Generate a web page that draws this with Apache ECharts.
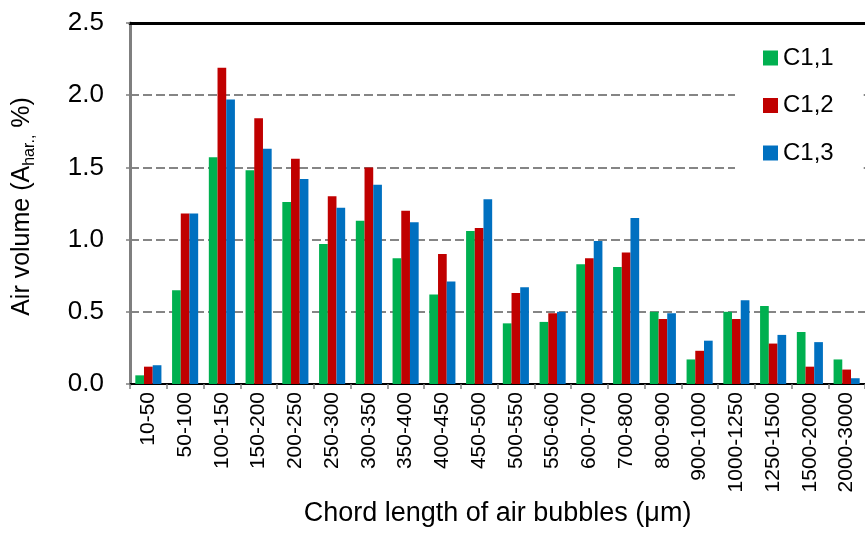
<!DOCTYPE html>
<html>
<head>
<meta charset="utf-8">
<script src="https://cdn.jsdelivr.net/npm/echarts@6/dist/echarts.min.js"></script>
<style>
  html, body { margin: 0; padding: 0; background: #fff; }
  #chart { width: 865px; height: 534px; }
</style>
</head>
<body>
<div id="chart"></div>
<script>
// Chord-length classes (µm)
const categories = ['10-50', '50-100', '100-150', '150-200', '200-250', '250-300', '300-350',
  '350-400', '400-450', '450-500', '500-550', '550-600', '600-700', '700-800', '800-900',
  '900-1000', '1000-1250', '1250-1500', '1500-2000', '2000-3000'];

const seriesNames = ['C1,1', 'C1,2', 'C1,3'];

// Air volume per class (%)
const c11 = [0.06, 0.65, 1.57, 1.48, 1.26, 0.97, 1.13, 0.87, 0.62, 1.06, 0.42, 0.43, 0.83, 0.81, 0.50, 0.17, 0.50, 0.54, 0.36, 0.17];
const c12 = [0.12, 1.18, 2.19, 1.84, 1.56, 1.30, 1.50, 1.20, 0.90, 1.08, 0.63, 0.49, 0.87, 0.91, 0.45, 0.23, 0.45, 0.28, 0.12, 0.10];
const c13 = [0.13, 1.18, 1.97, 1.63, 1.42, 1.22, 1.38, 1.12, 0.71, 1.28, 0.67, 0.50, 0.99, 1.15, 0.49, 0.30, 0.58, 0.34, 0.29, 0.04];

// Value axis range
const yMin = 0;
const yMax = 2.5;
const yStep = 0.5;

const colors = ['#00B050', '#C00000', '#0070C0'];
const FONT = '"Liberation Sans", Arial, sans-serif';

const chart = echarts.init(document.getElementById('chart'), null, { renderer: 'canvas' });

const values = [c11, c12, c13];

chart.setOption({
  animation: false,
  backgroundColor: '#ffffff',
  color: colors,
  textStyle: { fontFamily: FONT, color: '#000' },
  grid: { left: 130, right: -10, top: 23, bottom: 150, containLabel: false },
  legend: {
    orient: 'vertical',
    left: 735,
    top: 29,
    padding: [15, 30, 15, 28],
    backgroundColor: '#ffffff',
    itemWidth: 15,
    itemHeight: 15,
    itemGap: 19.5,
    icon: 'rect',
    textStyle: { fontFamily: FONT, fontSize: 24, color: '#000', lineHeight: 28 },
    data: seriesNames
  },
  xAxis: [{
    type: 'category',
    data: categories,
    position: 'bottom',
    axisLine: { show: true, lineStyle: { color: '#000', width: 2 } },
    axisTick: { show: true, length: 5, lineStyle: { color: '#808080', width: 1.5 } },
    axisLabel: { rotate: 90, margin: 8, fontSize: 21, color: '#000', fontFamily: FONT, interval: 0 },
    name: 'Chord length of air bubbles (\u03bcm)',
    nameLocation: 'middle',
    nameGap: 115,
    nameTextStyle: { fontSize: 27, color: '#000', fontFamily: FONT }
  }, {
    type: 'category',
    data: categories,
    position: 'top',
    axisLine: { show: true, lineStyle: { color: '#000', width: 3 } },
    axisTick: { show: false },
    axisLabel: { show: false }
  }],
  yAxis: {
    type: 'value',
    min: yMin,
    max: yMax,
    interval: yStep,
    axisLine: { show: true, lineStyle: { color: '#7f7f7f', width: 3 } },
    axisTick: { show: true, length: 4, lineStyle: { color: '#7f7f7f', width: 1.5 } },
    axisLabel: {
      margin: 26, fontSize: 26, color: '#000', fontFamily: FONT,
      formatter: v => v.toFixed(1)
    },
    splitLine: { show: true, lineStyle: { color: '#858585', width: 2, type: [9, 4] } },
    name: '{m|Air volume (A}{s|har.,}{m| %)}',
    nameLocation: 'middle',
    nameGap: 92,
    nameRotate: 90,
    nameTextStyle: {
      padding: [0, 6, 0, 0],
      rich: {
        m: { fontSize: 25, color: '#000', fontFamily: FONT, lineHeight: 32, verticalAlign: 'middle' },
        s: { fontSize: 16, color: '#000', fontFamily: FONT, lineHeight: 16, verticalAlign: 'bottom' }
      }
    }
  },
  series: seriesNames.map((name, i) => ({
    name: name,
    type: 'bar',
    xAxisIndex: 0,
    data: values[i],
    barWidth: 8.7,
    barGap: '0%',
    itemStyle: { color: colors[i] }
  }))
});
</script>
</body>
</html>
